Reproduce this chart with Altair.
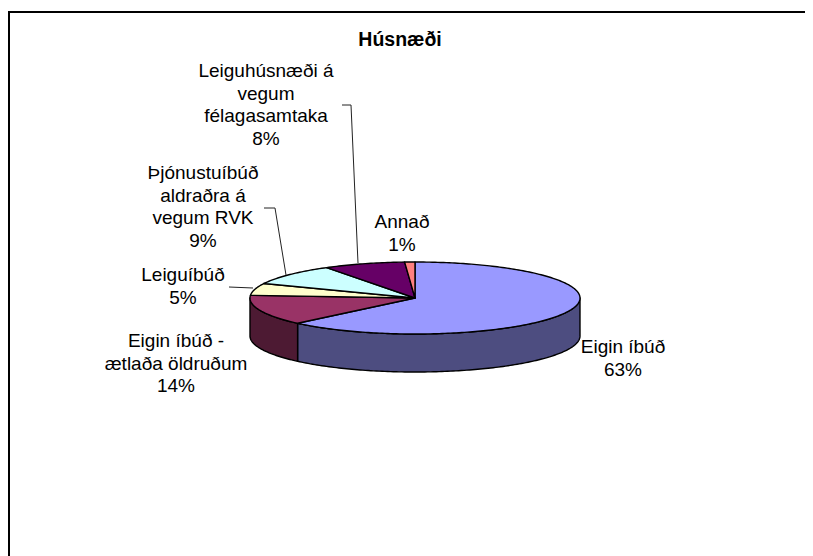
import math
import altair as alt

# --- chart values ---
categories = ["Eigin íbúð", "Eigin íbúð - ætlaða öldruðum", "Leiguíbúð",
              "Þjónustuíbúð aldraðra á vegum RVK", "Leiguhúsnæði á vegum félagasamtaka", "Annað"]
shares = [62.6, 13.6, 5.4, 9.4, 8.0, 1.0]
label_lines = [["Eigin íbúð"], ["Eigin íbúð -", "ætlaða öldruðum"], ["Leiguíbúð"],
               ["Þjónustuíbúð", "aldraðra á", "vegum RVK"],
               ["Leiguhúsnæði á", "vegum", "félagasamtaka"], ["Annað"]]
title_text = "Húsnæði"

# --- styling / layout ---
top_colors = ["#9999FF", "#993366", "#FFFFCC", "#CCFFFF", "#660066", "#FF8080"]
wall_colors = ["#4D4D80", "#4D1A33", None, None, None, None]
CX, CY, RX, RY, DEPTH = 415, 298, 165, 36, 38
label_x = [623, 176, 183, 203, 266, 402]
label_y = [347, 341, 275, 173, 71, 222]
LINE_H = 22.6
FONT = "Liberation Sans"
LABEL_SIZE = 19
W, H = 797, 548
leaders = [[(342, 105), (351, 105), (358, 263)],
           [(264, 208), (275, 208), (286, 275)],
           [(229, 287), (253, 288)]]
frame = [(813, 12), (9, 12), (9, 556)]


def pt(deg, drop=0):
    r = math.radians(deg)
    return [CX + RX * math.sin(r), CY - RY * math.cos(r) + drop]


def arc(a, b):
    n = max(2, int(abs(b - a)) + 1)
    return [a + (b - a) * i / n for i in range(n + 1)]


def feature(coords, fill):
    return {"type": "Feature", "properties": {"fill": fill},
            "geometry": {"type": "Polygon", "coordinates": [coords + [coords[0]]]}}


walls, tops = [], []
start = 0.0
for share, top, wall in zip(shares, top_colors, wall_colors):
    end = start + share * 3.6
    tops.append(feature([[CX, CY]] + [pt(d) for d in arc(start, end)], top))
    if wall:
        a, b = max(start, 90), min(end, 270)
        walls.append(feature([pt(d) for d in arc(a, b)] +
                             [pt(d, DEPTH) for d in arc(b, a)], wall))
    start = end

projection = dict(type="identity", scale=1, translate=[-8, -8])

pie = alt.Chart(alt.InlineData(values=walls + tops, format=alt.DataFormat(type="json"))).mark_geoshape(
    stroke="black", strokeWidth=1.4, strokeJoin="round"
).encode(color=alt.Color("properties.fill:N", scale=None)).project(**projection)

text_rows = []
for lines, share, x, y in zip(label_lines, shares, label_x, label_y):
    for i, line in enumerate(lines + [f"{round(share)}%"]):
        text_rows.append({"t": line, "lon": x, "lat": y + i * LINE_H})

labels = alt.Chart(alt.Data(values=text_rows)).mark_text(
    font=FONT, fontSize=LABEL_SIZE, color="black", align="center", baseline="middle"
).encode(longitude="lon:Q", latitude="lat:Q", text="t:N").project(**projection)

title = alt.Chart(alt.Data(values=[{"t": title_text, "lon": 400, "lat": 40}])).mark_text(
    font=FONT, fontSize=19.5, fontWeight="bold", color="black", align="center", baseline="middle"
).encode(longitude="lon:Q", latitude="lat:Q", text="t:N").project(**projection)

leader_rows = [{"s": s, "o": i, "lon": p[0], "lat": p[1]}
               for s, seg in enumerate(leaders) for i, p in enumerate(seg)]
leader_layer = alt.Chart(alt.Data(values=leader_rows)).mark_line(
    color="#222222", strokeWidth=1
).encode(longitude="lon:Q", latitude="lat:Q", detail="s:N", order="o:Q").project(**projection)

frame_rows = [{"o": i, "lon": p[0], "lat": p[1]} for i, p in enumerate(frame)]
frame_layer = alt.Chart(alt.Data(values=frame_rows)).mark_line(
    color="black", strokeWidth=2
).encode(longitude="lon:Q", latitude="lat:Q", order="o:Q").project(**projection)

chart = alt.layer(frame_layer, pie, leader_layer, labels, title).properties(
    width=W, height=H, padding=0, autosize=alt.AutoSizeParams(type="none"),
    background="white"
).configure_view(stroke=None)

chart.save("out.html", embed_options={"renderer": "svg", "actions": False})
